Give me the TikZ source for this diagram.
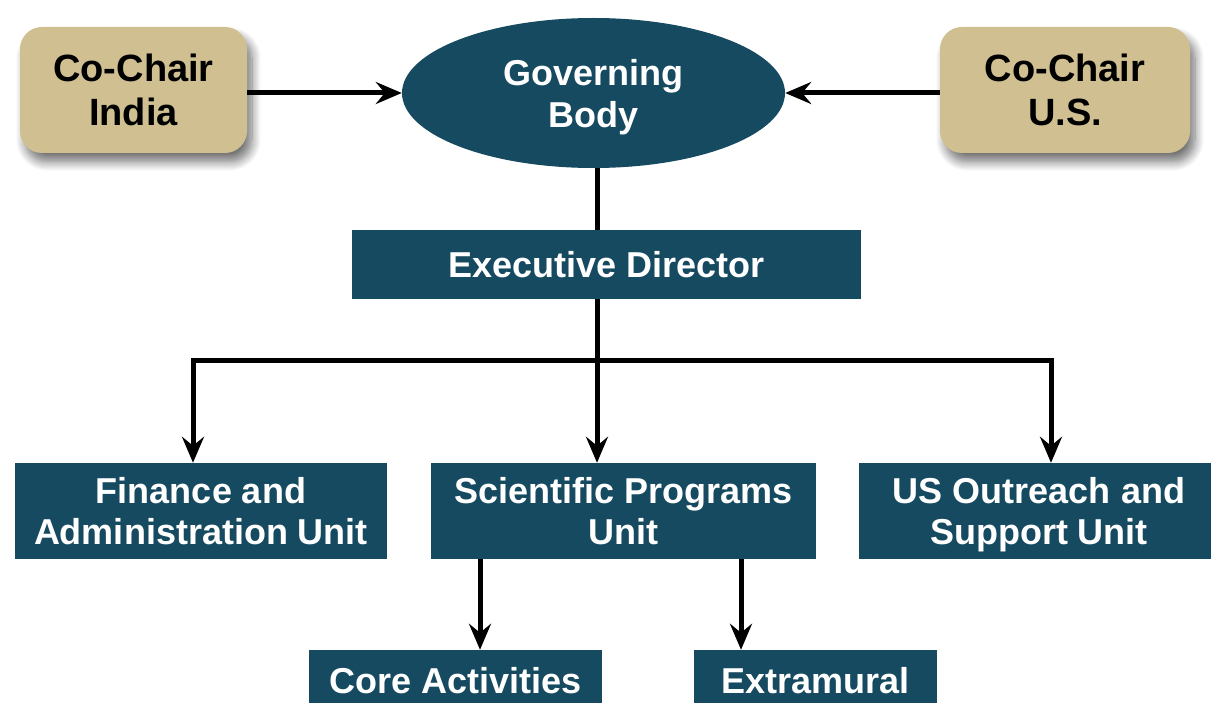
\documentclass[tikz,border=0pt]{standalone}
\usepackage{fontspec}
\setmainfont{Liberation Sans}
\usetikzlibrary{arrows.meta,shapes.geometric,shadows.blur}
\definecolor{teal}{RGB}{22,74,96}
\definecolor{tan}{RGB}{208,192,145}
\begin{document}
\begin{tikzpicture}[x=1pt,y=-1pt,
  unit/.style={fill=teal,text=white,inner sep=0pt,align=center,
    font=\bfseries\fontsize{36}{41}\selectfont},
  two/.style={text depth=0pt},
  chair/.style={fill=tan,text=black,rounded corners=22pt,inner sep=0pt,align=center,
    font=\bfseries\fontsize{38}{44}\selectfont,
    blur shadow={shadow xshift=5pt,shadow yshift=-9pt,shadow blur radius=9pt,shadow blur steps=10,shadow opacity=55}},
  arr/.style={line width=5pt,-{Stealth[length=26pt,width=22pt,inset=9pt]}},
  ln/.style={line width=5pt}]
\useasboundingbox (0,0) rectangle (1211,703);
\clip (0,0) rectangle (1211,703);
\node[chair,minimum width=227pt,minimum height=126pt] (india) at (133.5,90) {Co-Chair\\India};
\node[chair,minimum width=250pt,minimum height=126pt] (us) at (1065,90) {Co-Chair\\U.S.};
\node[ellipse,fill=teal,text=white,inner sep=0pt,minimum width=383pt,minimum height=150pt,align=center,text depth=0pt,
  font=\bfseries\fontsize{36}{42}\selectfont] (gb) at (593.5,93) {Governing\\Body};
\node[unit,minimum width=509pt,minimum height=69pt] (exec) at (606.5,264.5) {Executive Director};
\node[unit,two,minimum width=372pt,minimum height=96pt] (fin) at (201,511) {Finance and\\Administration Unit};
\node[unit,two,minimum width=385pt,minimum height=96pt] (sci) at (623.5,511) {Scientific Programs\\Unit};
\node[unit,two,minimum width=360pt,minimum height=96pt] (out) at (1039,511) {US Outreach and\\Support Unit};
\node[unit,minimum width=293pt,minimum height=62pt] (core) at (455.5,681) {Core Activities};
\node[unit,minimum width=243pt,minimum height=62pt] (extra) at (815.5,681) {Extramural};
\coordinate (j) at (597,361);
\coordinate (jl) at (193,361);
\coordinate (jr) at (1051,361);
\coordinate (ca) at (480,0);
\coordinate (ea) at (741,0);
\draw[arr] (india.east |- gb.west) -- (gb.west);
\draw[arr] (us.west |- gb.east) -- (gb.east);
\draw[ln] (gb.south -| j) -- (exec.north -| j);
\draw[ln] (exec.south -| j) -- (j);
\draw[ln,line cap=rect] (jl) -- (jr);
\draw[arr] (j) -- (sci.north -| j);
\draw[arr] (jl) -- (fin.north -| jl);
\draw[arr] (jr) -- (out.north -| jr);
\draw[arr] (sci.south -| ca) -- (core.north -| ca);
\draw[arr] (sci.south -| ea) -- (extra.north -| ea);
\end{tikzpicture}
\end{document}
